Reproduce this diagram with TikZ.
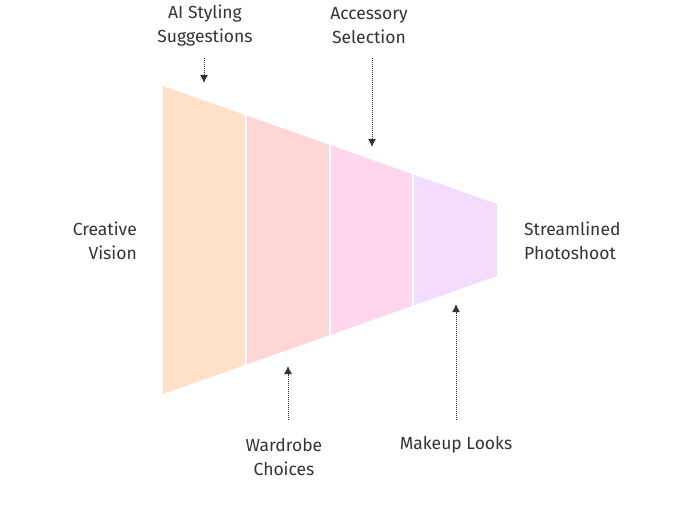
\documentclass[tikz,border=0pt]{standalone}
\usepackage{fontspec}
\setmainfont{Fira Sans}
\usetikzlibrary{arrows.meta}
\definecolor{c1}{HTML}{FFE0C8}
\definecolor{c2}{HTML}{FFD6D6}
\definecolor{c3}{HTML}{FFD6EE}
\definecolor{c4}{HTML}{F3DCFF}
\definecolor{tx}{HTML}{333333}
\begin{document}
\begin{tikzpicture}[x=1pt,y=-1pt,
  lbl/.style={font=\fontsize{17.5}{24}\selectfont, text=tx, inner sep=0pt},
  seg/.style={draw=white, line width=1.5pt},
  arr/.style={draw=tx, densely dotted, line width=1pt, -{Latex[length=8pt,width=8pt]}}]
\useasboundingbox (0,0) rectangle (678,528);
\fill[c1] (163,86) -- (246,115.3) -- (246,364.7) -- (163,394) -- cycle;
\fill[c2] (246,115.3) -- (330,145) -- (330,335) -- (246,364.7) -- cycle;
\fill[c3] (330,145) -- (413,174.3) -- (413,305.7) -- (330,335) -- cycle;
\fill[c4] (413,174.3) -- (497,204) -- (497,276) -- (413,305.7) -- cycle;
\draw[seg] (246,115.3) -- (246,364.7);
\draw[seg] (330,145) -- (330,335);
\draw[seg] (413,174.3) -- (413,305.7);
\node[lbl, align=right, anchor=east] (cv) at (137,241) {Creative\\Vision};
\node[lbl, align=left, anchor=west] (sp) at (524,241) {Streamlined\\Photoshoot};
\node[lbl, align=center] (ai) at (205,26) {AI Styling\\Suggestions};
\node[lbl, align=center] (ac) at (369,26) {Accessory\\Selection};
\node[lbl, align=center] (wc) at (284,457) {Wardrobe\\Choices};
\node[lbl, align=center] (ml) at (456,445) {Makeup Looks};
\coordinate (aiS) at (204,58); \coordinate (aiE) at (204,83);
\coordinate (acS) at (372,58); \coordinate (acE) at (372,147);
\coordinate (wcS) at (288,420); \coordinate (wcE) at (288,366);
\coordinate (mlS) at (456,420); \coordinate (mlE) at (456,304);
\draw[arr] (aiS) -- (aiE);
\draw[arr] (acS) -- (acE);
\draw[arr] (wcS) -- (wcE);
\draw[arr] (mlS) -- (mlE);
\end{tikzpicture}
\end{document}
